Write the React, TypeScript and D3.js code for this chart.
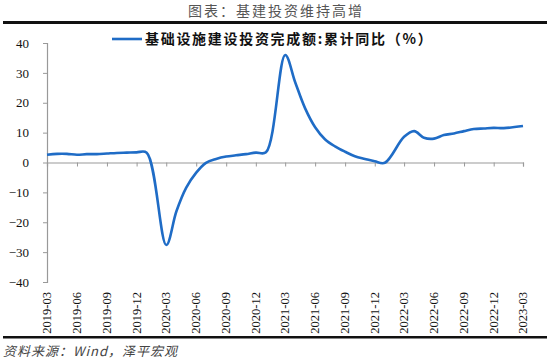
import { useEffect, useRef } from "react";
import * as d3 from "d3";

// month labels as placed on the chart's date axis (no January reading)
const months = [
  "2019-03", "2019-04", "2019-05", "2019-06", "2019-07", "2019-08", "2019-09", "2019-10", "2019-11", "2019-12", "2020-01",
  "2020-03", "2020-04", "2020-05", "2020-06", "2020-07", "2020-08", "2020-09", "2020-10", "2020-11", "2020-12", "2021-01",
  "2021-03", "2021-04", "2021-05", "2021-06", "2021-07", "2021-08", "2021-09", "2021-10", "2021-11", "2021-12", "2022-01",
  "2022-03", "2022-04", "2022-05", "2022-06", "2022-07", "2022-08", "2022-09", "2022-10", "2022-11", "2022-12", "2023-01",
  "2023-03",
];
const infraYoY = [
  2.6, 2.9, 2.9, 2.6, 2.8, 2.8, 3.0, 3.2, 3.3, 3.4, 3.3,
  -27.6, -16.4, -8.5, -3.4, -0.1, 1.2, 2.0, 2.4, 2.8, 3.3, 3.4,
  36.0, 26.8, 18.2, 11.8, 7.8, 5.4, 3.6, 2.1, 1.2, 0.4, -0.1,
  8.6, 10.5, 8.3, 8.0, 9.2, 9.7, 10.5, 11.2, 11.4, 11.6, 11.5,
  12.2,
];
const xTicks = [
  "2019-03", "2019-06", "2019-09", "2019-12", "2020-03", "2020-06", "2020-09", "2020-12",
  "2021-03", "2021-06", "2021-09", "2021-12", "2022-03", "2022-06", "2022-09", "2022-12", "2023-03",
];
const yTicks = [40, 30, 20, 10, 0, -10, -20, -30, -40];

const title = "图表：基建投资维持高增";
const seriesName = "基础设施建设投资完成额:累计同比（%）";
const source = "资料来源：Wind，泽平宏观";

const W = 550;
const H = 362;
const cjk = "'Noto Sans CJK SC', sans-serif";
const serif = "'Liberation Serif', 'Times New Roman', serif";

export default function App() {
  const svgRef = useRef<SVGSVGElement>(null);

  useEffect(() => {
    if (!svgRef.current) return;
    const svg = d3.select(svgRef.current);
    svg.selectAll("*").remove();

    const parse = d3.timeParse("%Y-%m")!;
    const data = months.map((m, i) => ({ date: parse(m) as Date, v: infraYoY[i] }));

    const x = d3
      .scaleTime()
      .domain([parse(xTicks[0]) as Date, parse(xTicks[xTicks.length - 1]) as Date])
      .range([47, 523]);
    const y = d3.scaleLinear().domain([-40, 40]).range([282, 43]);

    // title + rules
    svg
      .append("text")
      .attr("x", W / 2 + 1)
      .attr("y", 16)
      .attr("text-anchor", "middle")
      .attr("font-family", cjk)
      .attr("font-size", 14)
      .attr("letter-spacing", 2)
      .attr("fill", "#555")
      .text(title);
    svg.append("rect").attr("x", 3).attr("y", 21).attr("width", 544).attr("height", 3).attr("fill", "#111");
    svg.append("rect").attr("x", 3).attr("y", 336).attr("width", 544).attr("height", 2.5).attr("fill", "#111");

    // y axis
    const yAxis = svg
      .append("g")
      .attr("transform", "translate(47,0)")
      .call(d3.axisLeft(y).tickValues(yTicks).tickSize(4).tickPadding(14));
    yAxis.select(".domain").attr("stroke", "#999").attr("stroke-width", 1.2);
    yAxis.selectAll(".tick line").attr("stroke", "#999");
    yAxis
      .selectAll(".tick text")
      .attr("font-family", serif)
      .attr("font-size", 13)
      .attr("fill", "#111");

    // x axis at zero
    const xAxis = svg
      .append("g")
      .attr("transform", `translate(0,${y(0)})`)
      .call(
        d3
          .axisBottom(x)
          .tickValues(xTicks.map(t => parse(t) as Date))
          .tickSize(4)
          .tickFormat(() => "")
      );
    xAxis.select(".domain").attr("stroke", "#999").attr("stroke-width", 1.2);
    xAxis.selectAll(".tick line").attr("stroke", "#999");

    // rotated tick labels at the bottom
    svg
      .append("g")
      .selectAll("text")
      .data(xTicks)
      .enter()
      .append("text")
      .attr("transform", d => `translate(${x(parse(d) as Date) + 4},292) rotate(-90)`)
      .attr("text-anchor", "end")
      .attr("font-family", serif)
      .attr("font-size", 12.5)
      .attr("fill", "#111")
      .text(d => d);

    // series line
    const line = d3
      .line<{ date: Date; v: number }>()
      .x(d => x(d.date))
      .y(d => y(d.v))
      .curve(d3.curveCatmullRom.alpha(0.5));
    svg
      .append("path")
      .datum(data)
      .attr("fill", "none")
      .attr("stroke", "#1f6cc6")
      .attr("stroke-width", 2.6)
      .attr("d", line);

    // legend
    svg
      .append("line")
      .attr("x1", 112)
      .attr("x2", 142)
      .attr("y1", 39)
      .attr("y2", 39)
      .attr("stroke", "#1f6cc6")
      .attr("stroke-width", 2.6);
    svg
      .append("text")
      .attr("x", 145)
      .attr("y", 44)
      .attr("font-family", cjk)
      .attr("font-size", 14)
      .attr("letter-spacing", 1.7)
      .attr("font-weight", "bold")
      .attr("fill", "#111")
      .text(seriesName);

    // source
    svg
      .append("text")
      .attr("x", 3)
      .attr("y", 356)
      .attr("font-family", cjk)
      .attr("font-size", 13)
      .attr("letter-spacing", 1)
      .attr("font-style", "italic")
      .attr("fill", "#444")
      .text(source);
  }, []);

  return (
    <svg
      ref={svgRef}
      width={W}
      height={H}
      style={{ position: "absolute", left: 0, top: 0, background: "#fff" }}
    />
  );
}
